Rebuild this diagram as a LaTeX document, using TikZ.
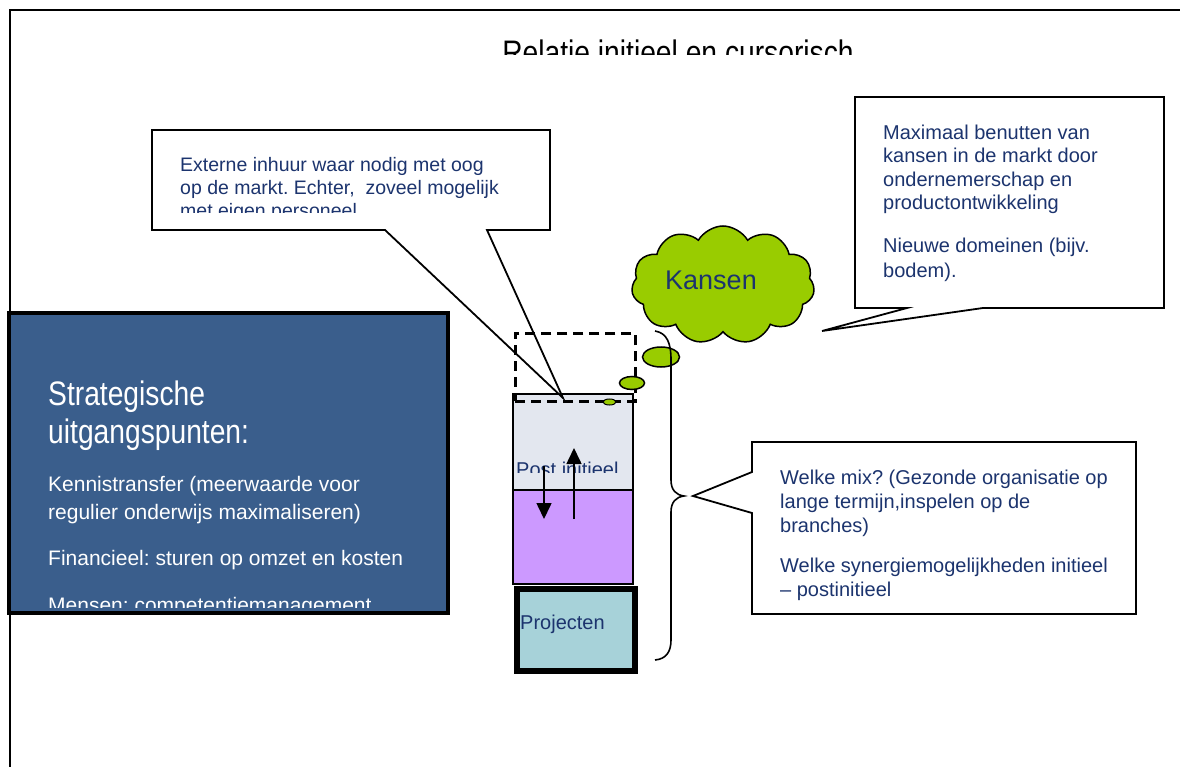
\documentclass[tikz,border=0pt]{standalone}
\usepackage{fontspec}
\setmainfont{Liberation Sans}
\newfontfamily\headfont[FakeStretch=0.83]{Liberation Sans}
\usetikzlibrary{shapes.symbols,shapes.geometric,arrows.meta}
\definecolor{navy}{RGB}{28,52,110}
\definecolor{stratblue}{RGB}{58,94,140}
\definecolor{lightbox}{RGB}{227,231,239}
\definecolor{purplebox}{RGB}{204,153,255}
\definecolor{projbox}{RGB}{167,210,217}
\definecolor{kansgreen}{RGB}{153,204,0}
\frenchspacing
\begin{document}
\begin{tikzpicture}[x=1pt,y=-1pt,
  calltext/.style={anchor=base west,inner sep=0,text=navy,font=\fontsize{20}{24}\selectfont},
  exttext/.style={anchor=base west,inner sep=0,text=navy,font=\fontsize{19.5}{23}\selectfont},
  strattext/.style={anchor=base west,inner sep=0,text=white,font=\fontsize{21}{25}\selectfont},
  headtext/.style={anchor=base west,inner sep=0,text=white,font=\headfont\fontsize{34}{38}\selectfont},
  callout/.style={draw=black,fill=white,line width=1.8pt,line join=miter},
  stackbox/.style={rectangle,draw=black,line width=1.8pt,anchor=north west,inner sep=0},
  bubble/.style={ellipse,draw=black,fill=kansgreen,line width=1.5pt,inner sep=0},
  arr/.style={line width=1.6pt,-{Triangle[length=16pt,width=15pt]}}
]
\useasboundingbox (0,0) rectangle (1180,767);
% frame
\draw[line width=2pt] (10,767) -- (10,10) -- (1180,10);
% title
\begin{scope}
\clip (400,0) rectangle (1000,55);
\node[anchor=base,inner sep=0,font=\headfont\fontsize{34}{38}\selectfont] (title) at (678,65) {Relatie initieel en cursorisch};
\end{scope}

% strategic box
\node[rectangle,draw=black,line width=4pt,fill=stratblue,minimum width=439pt,minimum height=300pt,anchor=north west,inner sep=0] (strat) at (7,311) {};
\node[headtext] (s1) at (48,405) {Strategische};
\node[headtext] (s2) at (48,443) {uitgangspunten:};
\node[strattext] (s3) at (48,491) {Kennistransfer (meerwaarde voor};
\node[strattext] (s4) at (48,519) {regulier onderwijs maximaliseren)};
\node[strattext] (s5) at (48,565) {Financieel: sturen op omzet en kosten};
\begin{scope}
\clip (9,313) rectangle (444,607);
\node[strattext] (s6) at (48,612) {Mensen: competentiemanagement.};
\end{scope}

% stack
\node[stackbox,fill=lightbox,minimum width=120pt,minimum height=96pt] (post) at (512,393) {};
\begin{scope}
\clip (513,394) rectangle (631,472);
\node[calltext] (posttxt) at (516,476) {Post initieel};
\end{scope}
\node[stackbox,fill=purplebox,minimum width=120pt,minimum height=94pt] (mid) at (512,489) {};
\node[rectangle,draw=black,line width=6pt,fill=projbox,minimum width=118pt,minimum height=82pt,anchor=north west,inner sep=0] (proj) at (514,586) {};
\node[calltext] (projtxt) at (520,629) {Projecten};

\coordinate (dA) at (544,466);
\coordinate (dB) at (544,519);
\coordinate (uA) at (574,519);
\coordinate (uB) at (574,448);
\draw[arr] (dA) -- (dB);
\draw[arr] (uA) -- (uB);

% callout: Externe
\coordinate (e1) at (152,130);
\coordinate (e2) at (550,130);
\coordinate (e3) at (550,230);
\coordinate (e4) at (487,230);
\coordinate (etip) at (563,398);
\coordinate (e5) at (385,230);
\coordinate (e6) at (152,230);
\draw[callout] (e1) -- (e2) -- (e3) -- (e4) -- (etip) -- (e5) -- (e6) -- cycle;
\node[exttext] (x1) at (180,172) {Externe inhuur waar nodig met oog};
\node[exttext] (x2) at (180,195) {op de markt. Echter,\ \ zoveel mogelijk};
\begin{scope}
\clip (153,131) rectangle (549,213);
\node[exttext] (x3) at (180,218) {met eigen personeel};
\end{scope}

% dashed rectangle
\node[rectangle,draw=black,line width=2.5pt,dash pattern=on 10pt off 6pt,minimum width=120pt,minimum height=68pt,anchor=north west,inner sep=0] (dash) at (514,332) {};

% cloud and bubbles
\node[cloud,cloud puffs=11,cloud puff arc=120,aspect=1.6,draw=black,line width=1.5pt,fill=kansgreen,minimum width=183pt,minimum height=118pt,inner sep=0] (kansen) at (723,285) {};
\node[anchor=base west,inner sep=0,text=navy,font=\fontsize{27}{30}\selectfont] (kansentxt) at (665,289) {Kansen};
\node[bubble,minimum width=37pt,minimum height=20pt] (b1) at (661,357) {};
\node[bubble,minimum width=25pt,minimum height=13pt] (b2) at (632,383) {};
\node[bubble,line width=1pt,minimum width=13pt,minimum height=6pt] (b3) at (609.5,402) {};

% brace
\coordinate (br1) at (655,331);
\coordinate (brtip) at (684,496);
\coordinate (br2) at (655,660);
\draw[line width=1.6pt] (br1) .. controls (667,333) and (671,343) .. (671,360) -- (671,480)
  .. controls (671,490) and (676,495) .. (brtip)
  .. controls (676,497) and (671,502) .. (671,512) -- (671,640)
  .. controls (671,652) and (666,659) .. (br2);

% callout: Maximaal
\coordinate (m1) at (855,97);
\coordinate (m2) at (1164,97);
\coordinate (m3) at (1164,308);
\coordinate (m4) at (983,308);
\coordinate (mtip) at (822,331);
\coordinate (m5) at (907,308);
\coordinate (m6) at (855,308);
\draw[callout] (m1) -- (m2) -- (m3) -- (m4) -- (mtip) -- (m5) -- (m6) -- cycle;
\node[calltext] (k1) at (883,140) {Maximaal benutten van};
\node[calltext] (k2) at (883,163) {kansen in de markt door};
\node[calltext] (k3) at (883,187) {ondernemerschap en};
\node[calltext] (k4) at (883,210) {productontwikkeling};
\node[calltext] (k5) at (883,253) {Nieuwe domeinen (bijv.};
\node[calltext] (k6) at (883,277) {bodem).};

% callout: Welke
\coordinate (w1) at (752,442);
\coordinate (w2) at (1136,442);
\coordinate (w3) at (1136,614);
\coordinate (w4) at (752,614);
\coordinate (w5) at (752,513);
\coordinate (wtip) at (693,496);
\coordinate (w6) at (752,472);
\draw[callout] (w1) -- (w2) -- (w3) -- (w4) -- (w5) -- (wtip) -- (w6) -- cycle;
\node[calltext] (q1) at (780,484) {Welke mix? (Gezonde organisatie op};
\node[calltext] (q2) at (780,508) {lange termijn,inspelen op de};
\node[calltext] (q3) at (780,532) {branches)};
\node[calltext] (q4) at (780,572) {Welke synergiemogelijkheden initieel};
\node[calltext] (q5) at (780,596) {-- postinitieel};
\end{tikzpicture}
\end{document}
